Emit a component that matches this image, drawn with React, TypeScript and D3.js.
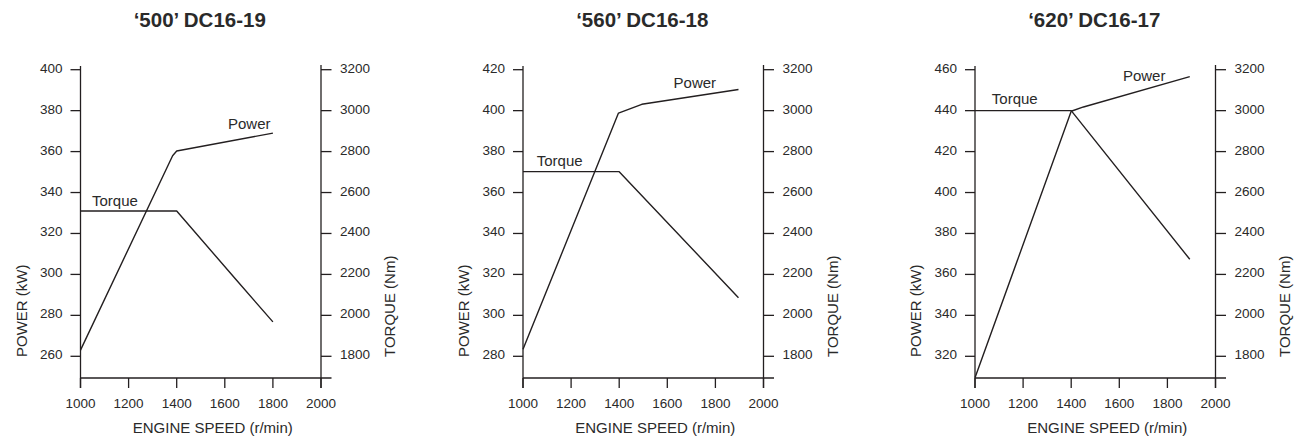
import React from "react";
import * as d3 from "d3";

// ---- data ----
const titles = ["\u2018500\u2019 DC16-19", "\u2018560\u2019 DC16-18", "\u2018620\u2019 DC16-17"];
const rpmTicks = [1000, 1200, 1400, 1600, 1800, 2000];
const torqueTicks = [1800, 2000, 2200, 2400, 2600, 2800, 3000, 3200];
const powerTicks500 = [260, 280, 300, 320, 340, 360, 380, 400];
const powerTicks560 = [280, 300, 320, 340, 360, 380, 400, 420];
const powerTicks620 = [320, 340, 360, 380, 400, 420, 440, 460];

const powerRpm500 = [1000, 1383, 1400, 1800];
const powerKw500 = [263, 358, 360.3, 369];
const torqueRpm500 = [1000, 1400, 1650, 1800];
const torqueNm500 = [2510, 2510, 2170, 1968];

const powerRpm560 = [1000, 1397, 1494, 1896];
const powerKw560 = [283.4, 398.8, 403.1, 410.3];
const torqueRpm560 = [1000, 1400, 1896];
const torqueNm560 = [2702, 2702, 2086];

const powerRpm620 = [1000, 1400, 1451, 1893];
const powerKw620 = [309.5, 439.7, 441.8, 456.6];
const torqueRpm620 = [1000, 1400, 1893];
const torqueNm620 = [3000, 3000, 2274];

// label anchors (data units)
const powerLabel = [[1790, 371], [1803, 411], [1792, 454.3]];
const torqueLabel = [[1048, 2535], [1057, 2728], [1070, 3031]];

const charts = [
  { title: titles[0], pTicks: powerTicks500, pr: powerRpm500, pv: powerKw500, tr: torqueRpm500, tv: torqueNm500 },
  { title: titles[1], pTicks: powerTicks560, pr: powerRpm560, pv: powerKw560, tr: torqueRpm560, tv: torqueNm560 },
  { title: titles[2], pTicks: powerTicks620, pr: powerRpm620, pv: powerKw620, tr: torqueRpm620, tv: torqueNm620 },
];

const leftX = [80.5, 523, 975];
const W = 240.5;
const yTop = 69.7;
const yBot = 356.3;
const xAxisY = 378;
const INK = "#231f20";
const TXT = "#2a2a2a";
const FONT = "Arial, 'Liberation Sans', Helvetica, sans-serif";

function Panel({ c, i }: { c: any; i: number }) {
  const x0 = leftX[i];
  const x = d3.scaleLinear().domain([1000, 2000]).range([x0, x0 + W]);
  const yP = d3.scaleLinear().domain([c.pTicks[0], c.pTicks[c.pTicks.length - 1]]).range([yBot, yTop]);
  const yT = d3.scaleLinear().domain([1800, 3200]).range([yBot, yTop]);
  const pLine = d3.line<number>().x((d, k) => x(c.pr[k])).y((d) => yP(d));
  const tLine = d3.line<number>().x((d, k) => x(c.tr[k])).y((d) => yT(d));
  const xr = x(2000);
  const midX = (x0 + xr) / 2;
  return (
    <g>
      <text x={midX - 1} y={27} textAnchor="middle" fontSize={20.5} fontWeight="bold" fill={TXT} fontFamily={FONT}>
        {c.title}
      </text>
      {/* axes */}
      <g stroke={INK} strokeWidth={1.3} fill="none">
        <line x1={x0} x2={x0} y1={66} y2={388} />
        <line x1={xr} x2={xr} y1={65} y2={388} />
        <line x1={x0} x2={xr + 10.5} y1={xAxisY} y2={xAxisY} />
        {rpmTicks.map((t) => (
          <line key={"xt" + t} x1={x(t)} x2={x(t)} y1={xAxisY} y2={388} />
        ))}
        {c.pTicks.map((t: number) => (
          <line key={"pt" + t} x1={x0 - 10} x2={x0} y1={yP(t)} y2={yP(t)} />
        ))}
        {torqueTicks.map((t) => (
          <line key={"tt" + t} x1={xr} x2={xr + 10.5} y1={yT(t)} y2={yT(t)} />
        ))}
      </g>
      <g fontFamily={FONT} fontSize={13.5} fill={TXT}>
        {rpmTicks.map((t) => (
          <text key={"xl" + t} x={x(t)} y={408} textAnchor="middle">{t}</text>
        ))}
        {c.pTicks.map((t: number) => (
          <text key={"pl" + t} x={x0 - 18} y={yP(t) + 3} textAnchor="end">{t}</text>
        ))}
        {torqueTicks.map((t) => (
          <text key={"tl" + t} x={xr + 19} y={yT(t) + 3} textAnchor="start">{t}</text>
        ))}
      </g>
      <g fontFamily={FONT} fontSize={15} fill={TXT}>
        <text x={midX + 12} y={433} textAnchor="middle">ENGINE SPEED (r/min)</text>
        <text transform={`translate(${x0 - 54},357) rotate(-90)`} textAnchor="start">POWER (kW)</text>
        <text transform={`translate(${xr + 74},357) rotate(-90)`} textAnchor="start">TORQUE (Nm)</text>
        <text x={x(powerLabel[i][0])} y={yP(powerLabel[i][1])} textAnchor="end">Power</text>
        <text x={x(torqueLabel[i][0])} y={yT(torqueLabel[i][1])} textAnchor="start">Torque</text>
      </g>
      <path d={pLine(c.pv) || ""} fill="none" stroke={INK} strokeWidth={1.4} strokeLinejoin="round" />
      <path d={tLine(c.tv) || ""} fill="none" stroke={INK} strokeWidth={1.4} strokeLinejoin="round" />
    </g>
  );
}

export default function App() {
  return (
    <svg
      width={1295}
      height={440}
      style={{ position: "absolute", left: 0, top: 0, background: "#fff" }}
    >
      <rect width={1295} height={440} fill="#fff" />
      {charts.map((c, i) => (
        <Panel key={i} c={c} i={i} />
      ))}
    </svg>
  );
}
